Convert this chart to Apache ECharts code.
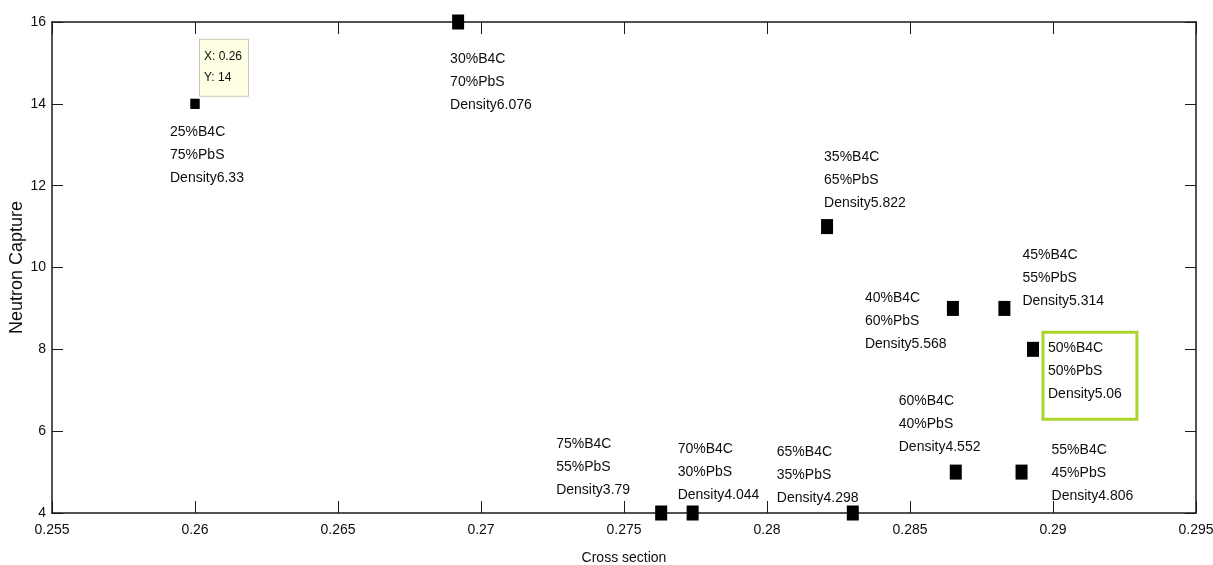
<!DOCTYPE html>
<html>
<head>
<meta charset="utf-8">
<script src="https://cdn.jsdelivr.net/npm/echarts@6/dist/echarts.min.js"></script>
<style>
html,body{margin:0;padding:0;background:#fff;}
#chart{width:1213px;height:565px;}
</style>
</head>
<body>
<div id="chart"></div>
<script>
// ---- data ----
const b4cPercent   = [25, 30, 35, 40, 45, 50, 60, 55, 75, 70, 65];
const pbsPercent   = [75, 70, 65, 60, 55, 50, 40, 45, 55, 30, 35];
const density      = [6.33, 6.076, 5.822, 5.568, 5.314, 5.06, 4.552, 4.806, 3.79, 4.044, 4.298];
const crossSection = [0.26, 0.2692, 0.2821, 0.2865, 0.2883, 0.2893, 0.2866, 0.2889, 0.2763, 0.2774, 0.2830];
const neutronCapture = [14, 16, 11, 9, 9, 8, 5, 5, 4, 4, 4];
const dataTipIndex = 0;       // point with the MATLAB data tip
const highlightIndex = 5;     // label boxed in green

// ---- label placement (styling only) ----
const labelOffsets = [
  [-25, 17], [-8, 26], [-3, -81], [-88, -22], [18, -65], [10, -17],
  [-57, -82], [30, -33], [-105, -80], [-15, -75], [-76, -72]
];

const FONT = "'Liberation Sans', Arial, sans-serif";
const TXT = '#0d0d0d';

const points = crossSection.map((x, i) => {
  const item = {
    value: [x, neutronCapture[i]],
    name: b4cPercent[i] + '%B4C\n' + pbsPercent[i] + '%PbS\nDensity' + density[i],
    symbolSize: i === dataTipIndex ? [9, 10] : [12, 15],
    label: { offset: labelOffsets[i] }
  };
  if (i === highlightIndex) {
    item.label.borderColor = '#aad62b';
    item.label.borderWidth = 3;
    item.label.padding = [4, 15, 14, 5];
  }
  return item;
});

const chart = echarts.init(document.getElementById('chart'), null, {renderer: 'canvas'});

const xCommon = {
  type: 'value', min: 0.255, max: 0.295, interval: 0.005,
  axisLine: {show: true, onZero: false, lineStyle: {color: '#1a1a1a', width: 1.5}},
  axisTick: {show: true, inside: true, length: 12, lineStyle: {color: '#1a1a1a', width: 1}},
  splitLine: {show: false}
};
const yCommon = {
  type: 'value', min: 4, max: 16, interval: 2,
  axisLine: {show: true, onZero: false, lineStyle: {color: '#1a1a1a', width: 1.5}},
  axisTick: {show: true, inside: true, length: 11, lineStyle: {color: '#1a1a1a', width: 1}},
  splitLine: {show: false}
};

chart.setOption({
  animation: false,
  backgroundColor: '#fff',
  grid: {left: 52, right: 17, top: 22, bottom: 52, containLabel: false, outerBoundsMode: 'none'},
  xAxis: [
    Object.assign({}, xCommon, {
      position: 'bottom',
      name: 'Cross section', nameLocation: 'middle', nameGap: 38,
      nameTextStyle: {fontFamily: FONT, fontSize: 14, color: TXT},
      axisLabel: {show: true, margin: 10, fontFamily: FONT, fontSize: 14, color: TXT,
        formatter: v => String(+v.toFixed(3))}
    }),
    Object.assign({}, xCommon, {position: 'top', axisLabel: {show: false}})
  ],
  yAxis: [
    Object.assign({}, yCommon, {
      position: 'left',
      name: 'Neutron Capture', nameLocation: 'middle', nameGap: 26, nameRotate: 90,
      nameMoveOverlap: false,
      nameTextStyle: {fontFamily: FONT, fontSize: 18, color: TXT},
      axisLabel: {show: true, margin: 6, fontFamily: FONT, fontSize: 14, color: TXT}
    }),
    Object.assign({}, yCommon, {position: 'right', axisLabel: {show: false}})
  ],
  series: [
    {
      type: 'scatter',
      xAxisIndex: 0, yAxisIndex: 0,
      symbol: 'rect',
      itemStyle: {color: '#000', opacity: 1},
      label: {
        show: true, position: 'inside', align: 'left', verticalAlign: 'top',
        formatter: p => p.name,
        fontFamily: FONT, fontSize: 14, lineHeight: 23, color: TXT
      },
      data: points,
      z: 3
    },
    {
      type: 'scatter',
      xAxisIndex: 0, yAxisIndex: 0,
      symbol: 'rect',
      symbolSize: [9, 10],
      itemStyle: {color: '#000', opacity: 1},
      label: {
        show: true, position: 'inside', align: 'left', verticalAlign: 'top',
        offset: [5, -64],
        formatter: p => 'X: ' + p.value[0] + '\nY: ' + p.value[1],
        fontFamily: FONT, fontSize: 12, lineHeight: 21, color: TXT,
        backgroundColor: '#ffffe4', borderColor: '#c9c9b3', borderWidth: 1,
        padding: [6, 6, 8, 4]
      },
      data: [[crossSection[dataTipIndex], neutronCapture[dataTipIndex]]],
      z: 4
    }
  ]
});
</script>
</body>
</html>
